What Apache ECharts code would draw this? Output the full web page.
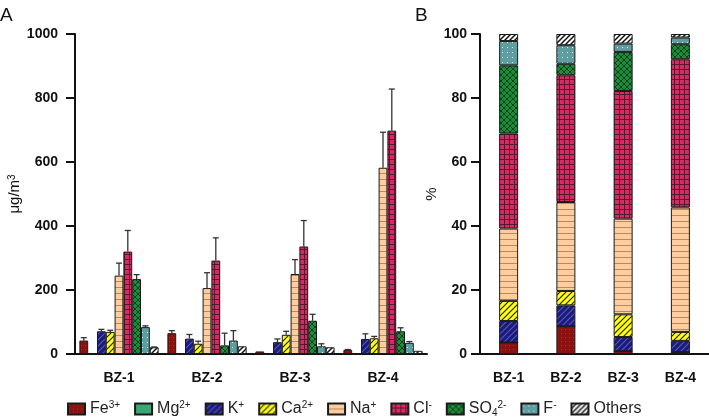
<!DOCTYPE html>
<html>
<head>
<meta charset="utf-8">
<script src="https://cdn.jsdelivr.net/npm/echarts@6/dist/echarts.min.js"></script>
<style>
  html, body { margin: 0; padding: 0; background: #fff; }
  #main { width: 709px; height: 418px; }
</style>
</head>
<body>
<div id="main"></div>
<script>
var categories = ['BZ-1', 'BZ-2', 'BZ-3', 'BZ-4'];
var ionNames = ['Fe3+', 'Mg2+', 'K+', 'Ca2+', 'Na+', 'Cl-', 'SO42-', 'F-', 'Others'];

// A: mean concentration (µg/m3), one value per site
var concFe = [42, 65, 8, 13];
var concMg = [0, 0, 0, 0];
var concK = [71, 48, 37, 47];
var concCa = [69, 32, 60, 49];
var concNa = [245, 206, 250, 582];
var concCl = [320, 292, 336, 698];
var concSO4 = [234, 27, 104, 71];
var concF = [84, 42, 24, 35];
var concOthers = [21, 24, 21, 10];

// A: standard deviation (upper error bar)
var sdFe = [9, 8, 0, 1];
var sdMg = [0, 0, 0, 0];
var sdK = [6, 13, 10, 16];
var sdCa = [5, 8, 11, 6];
var sdNa = [39, 48, 45, 111];
var sdCl = [66, 71, 81, 130];
var sdSO4 = [14, 38, 20, 11];
var sdF = [4, 31, 8, 4];
var sdOthers = [1, 0, 0, 0];

// B: share of total (%)
var pctFe = [3.6, 8.7, 0.9, 0.6];
var pctMg = [0, 0, 0, 0];
var pctK = [6.7, 6.5, 4.4, 3.5];
var pctCa = [6.3, 4.5, 7.1, 2.8];
var pctNa = [22.6, 27.8, 29.9, 38.9];
var pctCl = [29.7, 39.6, 39.9, 46.3];
var pctSO4 = [21.3, 3.6, 12.2, 4.7];
var pctF = [7.6, 5.8, 2.6, 2.1];
var pctOthers = [2.2, 3.5, 3.0, 1.1];

var yTicksA = [0, 200, 400, 600, 800, 1000];
var yTicksB = [0, 20, 40, 60, 80, 100];

var concAll = [concFe, concMg, concK, concCa, concNa, concCl, concSO4, concF, concOthers];
var sdAll = [sdFe, sdMg, sdK, sdCa, sdNa, sdCl, sdSO4, sdF, sdOthers];
var pctAll = [pctFe, pctMg, pctK, pctCa, pctNa, pctCl, pctSO4, pctF, pctOthers];

// fill patterns
function pattern(size, bg, draw) {
  var c = document.createElement('canvas');
  c.width = size; c.height = size;
  var g = c.getContext('2d');
  g.fillStyle = bg;
  g.fillRect(0, 0, size, size);
  if (draw) draw(g, size);
  return { image: c, repeat: 'repeat' };
}
function diag(color, w) {
  return function (g, s) {
    g.strokeStyle = color; g.lineWidth = w;
    g.beginPath();
    g.moveTo(0, s); g.lineTo(s, 0);
    g.moveTo(-1, 1); g.lineTo(1, -1);
    g.moveTo(s - 1, s + 1); g.lineTo(s + 1, s - 1);
    g.stroke();
  };
}
var fills = {
  'Fe3+': pattern(4, '#8c1111', function (g) { g.fillStyle = '#a83030'; g.fillRect(1, 1, 1, 1); }),
  'Mg2+': pattern(4, '#3aa676'),
  'K+': pattern(6, '#1b1b78', diag('#5656c0', 1.2)),
  'Ca2+': pattern(6, '#ffff1a', diag('#222', 1.2)),
  'Na+': pattern(6, '#fdcd9e', function (g) { g.fillStyle = '#b88a62'; g.fillRect(0, 5, 6, 1); }),
  'Cl-': pattern(5, '#d22c62', function (g) { g.fillStyle = '#5c1430'; g.fillRect(0, 4, 5, 1); g.fillRect(4, 0, 1, 5); }),
  'SO42-': pattern(6, '#1b8c3a', function (g, s) {
    g.strokeStyle = '#0b3a17'; g.lineWidth = 0.9;
    g.beginPath();
    g.moveTo(0, 0); g.lineTo(s, s);
    g.moveTo(0, s); g.lineTo(s, 0);
    g.stroke();
  }),
  'F-': pattern(5, '#5f9ea0', function (g) { g.fillStyle = '#d8eeee'; g.fillRect(2, 2, 1, 1); }),
  'Others': pattern(5, '#ffffff', diag('#111', 1.5))
};

var legendLabel = {
  'Fe3+': 'Fe{sup|3+}',
  'Mg2+': 'Mg{sup|2+}',
  'K+': 'K{sup|+}',
  'Ca2+': 'Ca{sup|2+}',
  'Na+': 'Na{sup|+}',
  'Cl-': 'Cl{sup|-}',
  'SO42-': 'SO{sub|4}{sup|2-}',
  'F-': 'F{sup|-}',
  'Others': 'Others'
};

var font = 'Liberation Sans';
var myChart = echarts.init(document.getElementById('main'));

var series = [];
ionNames.forEach(function (name, i) {
  var style = { color: fills[name], borderColor: '#1a1a1a', borderWidth: 1 };
  series.push({
    name: name, type: 'bar', xAxisIndex: 0, yAxisIndex: 0,
    barGap: '0%', barCategoryGap: '10%',
    itemStyle: style,
    data: concAll[i]
  });
  series.push({
    name: name, type: 'bar', xAxisIndex: 1, yAxisIndex: 1,
    stack: 'pct', barWidth: 19,
    itemStyle: style,
    data: pctAll[i]
  });
});

var errData = [];
ionNames.forEach(function (name, i) {
  categories.forEach(function (c, j) {
    errData.push([j, i, concAll[i][j], sdAll[i][j]]);
  });
});
series.push({
  type: 'custom', xAxisIndex: 0, yAxisIndex: 0, z: 1,
  data: errData,
  renderItem: function (params, api) {
    var cat = api.value(0), idx = api.value(1), v = api.value(2), e = api.value(3);
    if (e <= 0) return;
    var band = api.size([1, 0])[0];
    var bw = band * 0.9 / ionNames.length;
    var p0 = api.coord([cat, v]);
    var p1 = api.coord([cat, v + e]);
    var x = p0[0] + (idx - (ionNames.length - 1) / 2) * bw;
    var st = { stroke: '#333', lineWidth: 1.3 };
    return {
      type: 'group',
      children: [
        { type: 'line', shape: { x1: x, y1: p0[1], x2: x, y2: p1[1] }, style: st },
        { type: 'line', shape: { x1: x - 3, y1: p1[1], x2: x + 3, y2: p1[1] }, style: st }
      ]
    };
  }
});

function yAxis(gi, max, interval, name, gap) {
  return {
    type: 'value', gridIndex: gi, min: 0, max: max, interval: interval,
    name: name, nameLocation: 'middle', nameGap: gap,
    nameTextStyle: {
      fontFamily: font, fontSize: 15, color: '#111',
      rich: { sup: { fontSize: 10, verticalAlign: 'top', fontFamily: font, color: '#111' } }
    },
    axisLine: { show: true, lineStyle: { color: '#111', width: 2 } },
    axisTick: { show: true, length: 9, lineStyle: { color: '#111', width: 2 } },
    axisLabel: {
      fontFamily: font, fontSize: 14, fontWeight: 'bold', color: '#111',
      margin: gi === 0 ? 17 : 13,
      formatter: function (v) { return String(v); }
    },
    splitLine: { show: false }
  };
}
function xAxis(gi) {
  return {
    type: 'category', gridIndex: gi, data: categories,
    axisLine: { lineStyle: { color: '#111', width: 2 } },
    axisTick: { alignWithLabel: true, length: 8, lineStyle: { color: '#111', width: 2 } },
    axisLabel: { fontFamily: font, fontSize: 14, fontWeight: 'bold', color: '#111', margin: 17 }
  };
}

option = {
  animation: false,
  backgroundColor: '#fff',
  grid: [
    { left: 75, top: 34, width: 352, height: 320 },
    { left: 480, top: 34, width: 241, height: 320 }
  ],
  xAxis: [xAxis(0), xAxis(1)],
  yAxis: [
    yAxis(0, yTicksA[yTicksA.length - 1], yTicksA[1] - yTicksA[0], 'μg/m{sup|3}', 53),
    yAxis(1, yTicksB[yTicksB.length - 1], yTicksB[1] - yTicksB[0], '%', 40)
  ],
  legend: {
    data: ionNames,
    icon: 'rect',
    left: 62, top: 395,
    itemWidth: 17, itemHeight: 11, itemGap: 14,
    formatter: function (name) { return legendLabel[name]; },
    textStyle: {
      fontFamily: font, fontSize: 16, color: '#222', lineHeight: 18,
      rich: {
        sup: { fontSize: 10, verticalAlign: 'top', fontFamily: font, color: '#222', lineHeight: 18 },
        sub: { fontSize: 10, verticalAlign: 'bottom', fontFamily: font, color: '#222', lineHeight: 18 }
      }
    }
  },
  graphic: [
    { type: 'text', left: 0, top: 6, style: { text: 'A', fontFamily: font, fontSize: 19, fill: '#111' } },
    { type: 'text', left: 415, top: 6, style: { text: 'B', fontFamily: font, fontSize: 19, fill: '#111' } }
  ],
  series: series
};

myChart.setOption(option);
</script>
</body>
</html>
